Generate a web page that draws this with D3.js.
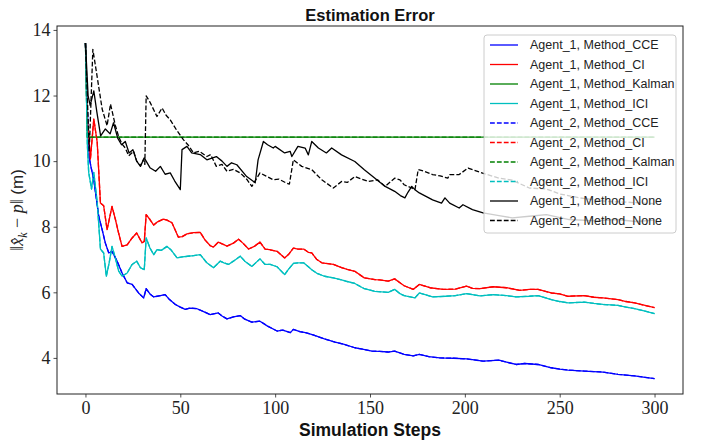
<!DOCTYPE html>
<html>
<head>
<meta charset="utf-8">
<script src="https://cdn.jsdelivr.net/npm/d3@7"></script>
<style>
  body { margin: 0; background: #fff; }
  svg { display: block; }
</style>
</head>
<body>
<div id="chart"></div>
<script>
// data, [step, error]
const cceAgent1 = [[0,13.6],[1,11.6],[2,10.1],[3,9.8],[4.4,9.43],[7,8.32],[8.8,7.91],[10.5,7.5],[12.3,7.2],[14,7.25],[16.7,6.95],[19.3,6.59],[22,6.29],[24.6,6.24],[28,5.98],[30.7,5.83],[32,6.11],[34,5.95],[36,5.86],[39.5,5.9],[42,5.93],[44,5.8],[47.4,5.63],[50,5.55],[52.6,5.48],[55,5.52],[58.8,5.5],[62,5.42],[65.8,5.32],[70,5.37],[72,5.28],[74.6,5.19],[78,5.25],[81.6,5.29],[84,5.18],[87.7,5.09],[92,5.12],[96,4.97],[101,4.82],[104,4.85],[108,4.77],[109.6,4.87],[113,4.8],[116,4.77],[120,4.7],[126,4.58],[131.6,4.48],[136,4.42],[142,4.31],[146,4.27],[151,4.21],[155,4.2],[159.6,4.18],[163,4.21],[168,4.11],[172.8,4.06],[176,4.11],[181,4.04],[186.8,4.0],[194,3.99],[201,3.97],[205,3.94],[209.6,3.9],[214,3.92],[218,3.93],[222,3.87],[227,3.8],[231.6,3.83],[238.6,3.8],[245.6,3.7],[250,3.66],[254.4,3.63],[263,3.6],[272.8,3.57],[280.7,3.5],[289.5,3.45],[295,3.41],[300,3.37]];

const ciAgent1 = [[0,13.6],[1,11.3],[2.6,10.06],[4.4,11.28],[6.2,10.57],[7.9,8.72],[9.6,8.64],[11.4,7.91],[14,8.62],[15.8,8.22],[17.5,7.8],[19.3,7.4],[22,7.45],[24.5,7.65],[27,7.81],[29.8,7.51],[31,7.55],[32,8.37],[34,8.22],[36,8.05],[38,8.15],[41,8.23],[43,8.2],[45.6,8.12],[49,7.68],[51,7.7],[53.5,7.78],[57,7.82],[60.5,7.83],[63,7.6],[65.8,7.42],[67.5,7.38],[70,7.53],[72,7.48],[74.6,7.41],[78,7.5],[80.7,7.62],[83,7.5],[86,7.32],[89,7.4],[92,7.53],[94.7,7.32],[97,7.3],[101,7.25],[105,7.05],[107,7.15],[109.6,7.35],[112,7.32],[115,7.32],[117.5,7.22],[119.3,7.2],[122,7.0],[124.6,6.9],[130.7,6.85],[135,6.75],[138,6.7],[142,6.64],[147,6.44],[152.6,6.39],[155,6.38],[159.6,6.34],[163,6.41],[165.8,6.29],[168,6.2],[172.8,6.09],[176,6.24],[181.6,6.14],[188.6,6.09],[195,6.1],[200.9,6.19],[204,6.12],[208,6.11],[215,6.17],[222,6.14],[229,6.06],[234,6.09],[238.6,6.09],[245.6,5.98],[250,5.95],[254.4,5.88],[263,5.9],[268,5.85],[272.8,5.83],[280.7,5.78],[285,5.72],[289.5,5.68],[295,5.6],[300,5.53]];

const kalmanAgent1 = [[0,13.6],[1,10.73],[300,10.73]];

const iciAgent1 = [[0,13.6],[1,10.5],[1.7,9.66],[3.2,9.15],[4.4,9.66],[6.2,8.74],[7.9,7.32],[9.6,7.2],[11,6.49],[12.5,6.9],[14,7.4],[15.5,7.1],[17.5,6.65],[19.3,6.49],[22,6.59],[24.6,6.85],[27,6.95],[29,6.75],[31,6.69],[32,7.66],[34,7.35],[36,7.15],[37.7,7.3],[40,7.28],[43,7.4],[45,7.3],[48.3,7.05],[51,7.08],[54,7.1],[57,7.12],[60.5,7.15],[64,6.9],[67.5,6.75],[71,6.95],[73,6.9],[75.4,6.85],[78,6.95],[81.6,7.1],[84,6.95],[87.7,6.79],[92,7.02],[94.7,6.85],[97.4,6.85],[101,6.78],[105,6.54],[107,6.7],[109.6,6.88],[112,6.9],[115,6.9],[117.5,6.78],[119.3,6.69],[122,6.58],[126,6.49],[130.7,6.44],[135,6.38],[138,6.33],[142,6.27],[147,6.11],[152.6,6.03],[159.6,6.0],[163,6.09],[165.8,5.96],[168,5.9],[173.7,5.83],[176,5.98],[183,5.86],[190,5.88],[195,5.9],[200.9,5.96],[208,5.89],[215,5.93],[222,5.9],[227,5.86],[234,5.88],[238.6,5.9],[245.6,5.78],[250,5.72],[254.4,5.68],[263,5.7],[268,5.66],[272.8,5.63],[280.7,5.6],[285,5.55],[289.5,5.5],[295,5.43],[300,5.35]];

// agent 2 fused estimates sit right on top of agent 1
const cceAgent2 = cceAgent1.map((d) => d.slice());
const ciAgent2 = ciAgent1.map((d) => d.slice());
const kalmanAgent2 = kalmanAgent1.map((d) => d.slice());
const iciAgent2 = iciAgent1.map((d) => d.slice());

const noneAgent1 = [[0,13.6],[1.4,11.99],[2.5,11.7],[4.4,12.14],[6,11.5],[8,10.77],[10.5,10.98],[13,10.83],[14.8,11.17],[17,10.7],[19,10.5],[21,10.6],[23,10.25],[25,10.35],[27,10.0],[29,9.84],[31,10.1],[34,9.8],[37,9.69],[39.5,9.84],[42,9.6],[44.7,9.64],[47,9.4],[50,9.13],[50.9,10.35],[53.5,10.45],[56,10.25],[60.5,10.2],[64,10.04],[69,10.14],[72,10.0],[74.6,9.84],[77,9.95],[79.8,9.89],[85,9.53],[89.5,9.34],[91,10.04],[93.8,10.6],[96,10.5],[99,10.4],[100,10.45],[105,10.25],[107.9,10.3],[108.8,10.14],[112,10.45],[115.8,10.4],[117.5,10.19],[119.3,10.6],[122.8,10.4],[127,10.25],[129.8,10.4],[135,10.19],[142,9.99],[147,9.74],[152.6,9.48],[158,9.23],[163,9.08],[166,8.95],[168.4,8.88],[170,9.05],[172,9.23],[173.7,9.13],[176,9.03],[183,8.82],[187.7,8.72],[189.5,8.88],[192,8.72],[197,8.57],[199,8.67],[204,8.52],[209.6,8.42],[218,8.34],[225,8.27],[234,8.32],[243,8.37],[255,8.22],[269,8.18],[280,8.22],[290,8.16],[300,8.2]];

const noneAgent2 = [[0,13.6],[2,10.3],[3.9,13.41],[6.1,12.6],[8.8,11.59],[11.4,11.08],[13.2,11.74],[15.8,11.08],[17.5,10.75],[19.3,10.52],[21,10.4],[22.8,10.16],[25.4,10.3],[27,10.0],[29,9.86],[30.7,10.06],[31.3,9.9],[32,11.99],[34,11.8],[37.7,11.36],[40.4,11.62],[42.5,11.4],[44.7,11.26],[48,10.95],[51.7,10.65],[54,10.5],[57,10.25],[60,10.3],[64,10.14],[66,10.2],[69,9.84],[72,9.9],[74.6,9.69],[78,9.75],[81.6,9.64],[85,9.45],[87.7,9.23],[92,9.64],[95,9.55],[99,9.43],[102,9.45],[106,9.33],[107.5,9.3],[109.6,10.04],[114,9.84],[119.3,9.74],[124.6,9.43],[130.7,9.18],[135,9.38],[138,9.35],[142,9.53],[149,9.38],[154,9.43],[158,9.23],[163,9.48],[165.8,9.43],[168,9.28],[172,9.18],[173.7,9.13],[175.4,9.74],[178,9.7],[183,9.59],[187,9.55],[191,9.48],[192,9.59],[197,9.59],[201.7,9.79],[208,9.66],[218,9.48],[225,9.42],[234,9.18],[243,9.15],[250,9.0],[260.5,8.88],[274.6,8.77],[285,8.75],[300,8.7]];

const seriesNames = [
  "Agent_1, Method_CCE", "Agent_1, Method_CI", "Agent_1, Method_Kalman", "Agent_1, Method_ICI",
  "Agent_2, Method_CCE", "Agent_2, Method_CI", "Agent_2, Method_Kalman", "Agent_2, Method_ICI",
  "Agent_1, Method_None", "Agent_2, Method_None"
];
const seriesData = [cceAgent1, ciAgent1, kalmanAgent1, iciAgent1, cceAgent2, ciAgent2, kalmanAgent2, iciAgent2, noneAgent1, noneAgent2];
const seriesColors = ["#0000ff", "#ff0000", "#008000", "#00bfbf", "#0000ff", "#ff0000", "#008000", "#00bfbf", "#000000", "#000000"];
const seriesDashed = [false, false, false, false, true, true, true, true, false, true];

const xTicks = [0, 50, 100, 150, 200, 250, 300];
const yTicks = [4, 6, 8, 10, 12, 14];

const width = 701, height = 443;
const margin = { top: 26, right: 18, bottom: 49, left: 57 };
const innerWidth = width - margin.left - margin.right;
const innerHeight = height - margin.top - margin.bottom;

const svg = d3.select("#chart").append("svg")
  .attr("width", width)
  .attr("height", height);

const g = svg.append("g").attr("transform", `translate(${margin.left},${margin.top})`);

const x = d3.scaleLinear().domain([-15, 315]).range([0, innerWidth]);
const y = d3.scaleLinear().domain([2.9, 14.12]).range([innerHeight, 0]);

const tickFont = "'Liberation Serif', 'DejaVu Serif', serif";
const sansFont = "'Liberation Sans', Arial, sans-serif";

//axes
const xAxis = g.append("g")
  .attr("transform", `translate(0,${innerHeight})`)
  .call(d3.axisBottom(x).tickValues(xTicks).tickSize(3.5).tickPadding(4));
const yAxis = g.append("g")
  .call(d3.axisLeft(y).tickValues(yTicks).tickSize(3.5).tickPadding(3));
[xAxis, yAxis].forEach((a) => {
  a.select(".domain").remove();
  a.selectAll("line").attr("stroke", "#222").attr("stroke-width", 0.8);
  a.selectAll("text").attr("font-family", tickFont).attr("font-size", 18).attr("fill", "#222");
});

//lines
const clip = svg.append("clipPath").attr("id", "plotClip")
  .append("rect").attr("width", innerWidth).attr("height", innerHeight);

const line = d3.line().x((d) => x(d[0])).y((d) => y(d[1]));
const plot = g.append("g").attr("clip-path", "url(#plotClip)");
seriesData.forEach((data, i) => {
  plot.append("path")
    .datum(data)
    .attr("fill", "none")
    .attr("stroke", seriesColors[i])
    .attr("stroke-width", 1.3)
    .attr("stroke-linejoin", "round")
    .attr("stroke-dasharray", seriesDashed[i] ? "4.8,2.1" : null)
    .attr("d", line);
});

// frame
g.append("rect")
  .attr("width", innerWidth)
  .attr("height", innerHeight)
  .attr("fill", "none")
  .attr("stroke", "#222")
  .attr("stroke-width", 1);

//legend
const legend = g.append("g").attr("transform", `translate(${484 - margin.left},${35 - margin.top})`);
legend.append("rect")
  .attr("width", 192)
  .attr("height", 198)
  .attr("rx", 3)
  .attr("fill", "white")
  .attr("fill-opacity", 0.8)
  .attr("stroke", "#cccccc")
  .attr("stroke-width", 1);
seriesNames.forEach((name, i) => {
  const row = legend.append("g").attr("transform", `translate(0,${10 + i * 19.5})`);
  row.append("line")
    .attr("x1", 6).attr("x2", 34)
    .attr("stroke", seriesColors[i])
    .attr("stroke-width", 1.3)
    .attr("stroke-dasharray", seriesDashed[i] ? "4.8,2.1" : null);
  row.append("text")
    .attr("x", 46)
    .attr("dy", "0.35em")
    .attr("font-family", sansFont)
    .attr("font-size", 12.5)
    .attr("fill", "#222")
    .text(name);
});

//titles
svg.append("text")
  .attr("x", margin.left + innerWidth / 2)
  .attr("y", 21)
  .attr("text-anchor", "middle")
  .attr("font-family", sansFont)
  .attr("font-weight", "bold")
  .attr("font-size", 16.5)
  .attr("fill", "#111")
  .text("Estimation Error");

svg.append("text")
  .attr("x", margin.left + innerWidth / 2)
  .attr("y", 436)
  .attr("text-anchor", "middle")
  .attr("font-family", sansFont)
  .attr("font-weight", "bold")
  .attr("font-size", 17.5)
  .attr("fill", "#111")
  .text("Simulation Steps");

const yLabel = svg.append("text")
  .attr("transform", `translate(23,${margin.top + innerHeight / 2}) rotate(-90)`)
  .attr("text-anchor", "middle")
  .attr("font-family", tickFont)
  .attr("font-size", 18)
  .attr("fill", "#222");
yLabel.append("tspan").text("\u2016");
yLabel.append("tspan").attr("font-style", "italic").text("x\u0302");
yLabel.append("tspan").attr("font-style", "italic").attr("font-size", 12).attr("dy", 4).text("k");
yLabel.append("tspan").attr("dy", -4).text(" \u2212 ");
yLabel.append("tspan").attr("font-style", "italic").text("p");
yLabel.append("tspan").text("\u2016 ");
yLabel.append("tspan").attr("font-family", sansFont).attr("font-size", 17).text("(m)");
</script>
</body>
</html>
